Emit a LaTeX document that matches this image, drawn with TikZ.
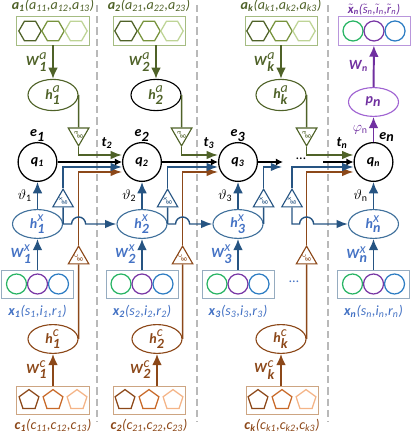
\documentclass[tikz,border=0pt]{standalone}
\usepackage{fontspec}
\setmainfont{Carlito}
\usepackage{xcolor}
\usepackage{tikz}
\usetikzlibrary{shapes,arrows,arrows.meta,positioning,calc}

% colours of the three feature streams and the output
\definecolor{greenD}{RGB}{79,98,40}
\definecolor{greenM}{RGB}{119,147,60}
\definecolor{greenL}{RGB}{190,212,150}
\definecolor{greenBox}{RGB}{165,188,130}
\definecolor{blueD}{RGB}{38,84,130}
\definecolor{blueE}{RGB}{65,113,156}
\definecolor{blueT}{RGB}{68,114,196}
\definecolor{blueBox}{RGB}{150,172,192}
\definecolor{cirG}{RGB}{40,180,100}
\definecolor{cirP}{RGB}{120,55,165}
\definecolor{cirB}{RGB}{45,125,195}
\definecolor{brownD}{RGB}{140,72,25}
\definecolor{brownM}{RGB}{200,105,40}
\definecolor{brownL}{RGB}{244,180,135}
\definecolor{brownBox}{RGB}{205,165,130}
\definecolor{purpD}{RGB}{112,48,160}
\definecolor{purpE}{RGB}{160,100,210}
\definecolor{purpBox}{RGB}{185,150,220}

\newcommand{\bi}[1]{\textbf{\textit{#1}}}
\newcommand{\hsym}[3]{$\bi{#1}_{\bi{#2}}^{\textit{#3}}$}
\newcommand{\tl}[1]{$\tilde{\textit{#1}}$}

\begin{document}
\begin{tikzpicture}[
        x=0.025cm, y=0.025cm,
        % Define styles for different components
        featbox/.style={
            draw,
            rectangle,
            minimum width=1.8cm,
            minimum height=0.7cm,
            line width=0.7pt
        },
        hexa/.style={
            draw,
            regular polygon,
            regular polygon sides=6,
            minimum size=0.56cm,
            inner sep=0pt,
            line width=0.9pt
        },
        penta/.style={
            draw,
            regular polygon,
            regular polygon sides=5,
            minimum size=0.52cm,
            inner sep=0pt,
            line width=0.9pt
        },
        dot/.style={
            draw,
            circle,
            minimum size=0.5cm,
            inner sep=0pt,
            line width=0.9pt
        },
        hidden/.style={
            draw,
            ellipse,
            minimum width=1.25cm,
            minimum height=0.72cm,
            inner sep=0pt,
            line width=0.8pt
        },
        state/.style={
            draw,
            circle,
            minimum size=0.97cm,
            inner sep=0pt,
            line width=0.9pt
        },
        gate/.style={
            draw,
            regular polygon,
            regular polygon sides=3,
            minimum size=0.56cm,
            inner sep=0pt,
            line width=0.8pt,
            font=\fontsize{6}{6}\selectfont
        },
        arrow/.style={
            ->,
            >={Latex[length=8pt,width=7pt]},
            line width=1.4pt
        },
        qin/.style={
            ->,
            >={Latex[length=8pt,width=6pt]},
            line width=1pt
        },
        flow/.style={
            ->,
            >={Latex[length=5pt,width=5pt]},
            line width=1.4pt
        },
        link/.style={
            line width=1pt
        },
        divider/.style={
            draw=gray!55,
            line width=0.9pt,
            dash pattern=on 5pt off 3pt
        }
    ]
    \useasboundingbox (0,0) rectangle (412,440);

    % Separators between time steps
    \foreach \sx in {97,197,328} {
        \draw[divider] (\sx,435) -- (\sx,18);
    }

    % Behaviour stream: states q, inputs x and hidden h^x
    \foreach \n/\x in {1/37.5, 2/142, 3/238, n/373.5} {
        \node[state] (q\n) at (\x,278) {\bi{q}\textsubscript{\bi{\n}}};
        \node[featbox, draw=blueBox] (boxX\n) at (\x,156) {};
        \foreach \c/\dx in {cirG/-21, cirP/0, cirB/21} {
            \node[dot, draw=\c] at ($(boxX\n)+(\dx,0)$) {};
        }
        \node[text=blueT, below=1pt of boxX\n] (labX\n) {\bi{x}\textsubscript{\bi{\n}}\textit{(s\textsubscript{\n},i\textsubscript{\n},r\textsubscript{\n})}};
        \node[hidden, draw=blueE, text=blueT] (hX\n) at (\x,216) {\hsym{h}{\n}{x}};
        \draw[arrow, blueD] (boxX\n) -- node[left, text=blueT] {\hsym{W}{\n}{x}} (hX\n);
        \draw[arrow, blueD] (hX\n) -- node[left, text=black] {$\vartheta$\textsubscript{\n}} (q\n);
    }
    \foreach \n in {1,2,3} {
        \node[above=-3pt of q\n] (e\n) {$\bi{e}_{\bi{\n}}$};
    }
    \node (en) at (387,303) {$\bi{e}_{\bi{n}}$};

    % Attribute stream a
    \foreach \n/\bx/\hx/\hc in {1/53/53/greenD, 2/149/156/black, k/281/281/greenD} {
        \node[featbox, draw=greenBox] (boxA\n) at (\bx,409) {};
        \foreach \c/\dx in {greenD/-23, greenM/0, greenL/23} {
            \node[hexa, draw=\c] at ($(boxA\n)+(\dx,0)$) {};
        }
        \node[text=greenD, above=0pt of boxA\n] (labA\n) {\bi{a}\textsubscript{\bi{\n}}\textit{(a\textsubscript{\n1},a\textsubscript{\n2},a\textsubscript{\n3})}};
        \node[hidden, minimum height=0.78cm, draw=\hc, text=greenD] (hA\n) at (\hx,345) {\hsym{h}{\n}{a}};
        \draw[arrow, greenD] (boxA\n.south -| hA\n) -- node[left] {\hsym{W}{\n}{a}} (hA\n);
        \node[gate, greenD, shape border rotate=180] (gA\n) at (hA\n.east |- 0,306) {\rotatebox{90}{g\textsuperscript{a}}};
        \draw[link, greenD] (hA\n.east) -- (gA\n.north);
    }

    % Context stream c
    \foreach \n/\bx/\hx in {1/53/53, 2/149/157, k/282/281} {
        \node[featbox, draw=brownBox] (boxC\n) at (\bx,40) {};
        \foreach \c/\dx in {brownD/-24, brownM/0, brownL/24} {
            \node[penta, draw=\c] at ($(boxC\n)+(\dx,0)$) {};
        }
        \node[text=brownD, below=0pt of boxC\n] (labC\n) {\bi{c}\textsubscript{\bi{\n}}\textit{(c\textsubscript{\n1},c\textsubscript{\n2},c\textsubscript{\n3})}};
        \node[hidden, draw=brownD, text=brownD] (hC\n) at (\hx,101) {\hsym{h}{\n}{c}};
        \draw[arrow, brownD] (boxC\n.north -| hC\n) -- node[left] {\hsym{W}{\n}{c}} (hC\n);
        \node[gate, brownD] (gC\n) at (hC\n.east |- 0,182) {\rotatebox{90}{g\textsuperscript{c}}};
        \draw[link, brownD] (hC\n.east) -- (gC\n.south);
    }

    % Gates of the behaviour stream
    \foreach \n in {1,2,3} {
        \node[gate, blueD] (gX\n) at (hX\n.east |- 0,239) {\rotatebox{90}{g\textsuperscript{x}}};
        \draw[link, blueD] (hX\n.east) -- (gX\n.south);
    }
    \node[gate, blueD] (gXm) at (292,239) {\rotatebox{90}{g\textsuperscript{x}}};
    \coordinate (xm) at (292,216);
    \coordinate (x3end) at (282,273);

    % Gated inputs into the next state
    \foreach \a/\b in {1/2, 2/3, k/n} {
        \draw[qin, greenD] (gA\a.south) |- ($(q\b.west)+(0,7)$);
    }
    \foreach \a/\b in {1/2, 2/3, k/n} {
        \draw[qin, brownD] (gC\a.north) |- ($(q\b.west)+(0,-10)$);
    }
    \draw[qin, blueD] (gX1.north) |- ($(q2.west)+(0,-5)$);
    \draw[qin, blueD] (gX2.north) |- ($(q3.west)+(0,-5)$);
    \draw[qin, blueD] (gX3.north) |- (x3end);
    \draw[qin, blueD] (gXm.north) |- ($(qn.west)+(0,-5)$);

    % State chain
    \coordinate (q3out) at (283,278);
    \coordinate (qnin) at (323,278);
    \draw[flow] (q1) -- (q2);
    \draw[flow] (q2) -- (q3);
    \draw[flow] (q3) -- (q3out);
    \draw[flow] (qnin) -- (qn);
    \node (dotsQ) at (301,281) {\dots};
    \node (dotsX) at (294,158) {\textcolor{blueT}{\dots}};

    % Recurrent links between hidden states, hopping over the c lines
    \draw[qin, blueD] (hX1.east) -- ($(hX1.east -| gC1)+(-7,0)$) arc[start angle=180, end angle=0, radius=5pt] -- (hX2.west);
    \draw[qin, blueD] (hX2.east) -- ($(hX2.east -| gC2)+(-7,0)$) arc[start angle=180, end angle=0, radius=5pt] -- (hX3.west);
    \draw[qin, blueD] (gXm.south) -- (xm) -- ($(xm -| gCk)+(-7,0)$) arc[start angle=180, end angle=0, radius=5pt] -- (hXn.west);

    % Time labels
    \foreach \n/\tx in {2/107, 3/209, n/342} {
        \node (t\n) at (\tx,297) {\bi{t}\textsubscript{\bi{\n}}};
    }

    % Output: prediction p_n and reconstructed input
    \node[featbox, draw=purpBox] (boxP) at (374,409) {};
    \foreach \c/\dx in {cirG/-21, cirP/0, cirB/21} {
        \node[dot, draw=\c] at ($(boxP)+(\dx,0)$) {};
    }
    \node[text=purpD, font=\small, above=-2.5pt of boxP] (labP) {$\tilde{\bi{x}}$\textsubscript{\bi{n}}\textit{(\tl{s}\textsubscript{n},\tl{\i}\textsubscript{n},\tl{r}\textsubscript{n})}};
    \node[hidden, draw=purpE, text=purpD] (pn) at (373.5,338) {$\bi{p}_{\bi{n}}$};
    \draw[arrow, purpD] (qn) -- node[left] {$\varphi$\textsubscript{n}} (pn);
    \draw[arrow, purpD] (pn) -- node[left] {\bi{W}\textsubscript{\bi{n}}} (boxP);

\end{tikzpicture}
\end{document}
